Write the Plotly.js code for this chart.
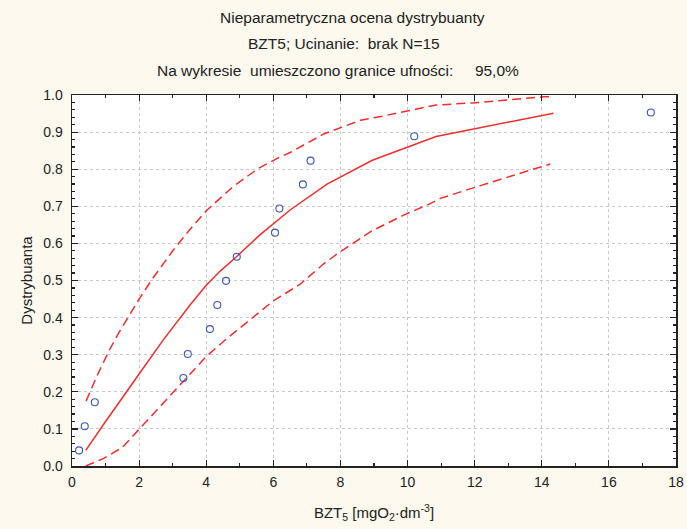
<!DOCTYPE html>
<html><head><meta charset="utf-8">
<script src="https://cdn.plot.ly/plotly-3.0.1.min.js"></script>
<style>html,body{margin:0;padding:0;background:#fdf9ee;}#chart{width:687px;height:529px;}</style>
</head><body><div id="chart"></div>
<script>
// Observed data points (BZT5, empirical distribution)
const obsX = [0.21, 0.38, 0.68, 3.32, 3.45, 4.11, 4.33, 4.59, 4.91, 6.05, 6.18, 6.88, 7.11, 10.2, 17.25];
const obsY = [0.042, 0.107, 0.172, 0.237, 0.302, 0.369, 0.434, 0.499, 0.564, 0.629, 0.694, 0.759, 0.823, 0.889, 0.953];

// Estimated distribution curve
const fitX = [0.41, 1.0, 2.0, 2.72, 3.5, 4.0, 4.4, 4.9, 5.6, 6.5, 7.6, 8.95, 10.85, 14.35];
const fitY = [0.042, 0.12, 0.248, 0.34, 0.432, 0.487, 0.524, 0.564, 0.623, 0.69, 0.76, 0.824, 0.888, 0.951];

// Upper 95% confidence limit
const upX = [0.42, 0.73, 1.1, 1.4, 2.0, 2.4, 3.0, 3.5, 4.0, 4.8, 5.55, 6.2, 6.5, 7.5, 8.6, 9.2, 10.85, 12.0, 14.05, 14.35];
const upY = [0.175, 0.24, 0.31, 0.36, 0.45, 0.505, 0.58, 0.636, 0.688, 0.753, 0.802, 0.833, 0.845, 0.895, 0.932, 0.942, 0.973, 0.979, 0.995, 0.995];

// Lower 95% confidence limit
const loX = [0.41, 0.93, 1.5, 2.0, 2.63, 3.32, 4.0, 4.62, 5.4, 6.0, 6.8, 7.5, 8.0, 8.9, 9.9, 10.6, 11.0, 12.0, 14.25];
const loY = [0.0, 0.02, 0.05, 0.099, 0.16, 0.227, 0.295, 0.344, 0.402, 0.445, 0.49, 0.545, 0.578, 0.632, 0.677, 0.704, 0.722, 0.751, 0.814];

const titleLines = [
  "Nieparametryczna ocena dystrybuanty",
  "BZT5; Ucinanie:  brak N=15",
  "Na wykresie  umieszczono granice ufności:     95,0%"
];
const xTitle = "BZT<sub>5</sub> [mgO<sub>2</sub>·dm<sup>-3</sup>]";
const yTitle = "Dystrybuanta";

const red = "#ee2e2e";
const traces = [
  {x: upX, y: upY, mode: "lines", line: {color: red, width: 1.5, dash: "9px,5px"}, hoverinfo: "skip"},
  {x: loX, y: loY, mode: "lines", line: {color: red, width: 1.5, dash: "9px,5px"}, hoverinfo: "skip"},
  {x: fitX, y: fitY, mode: "lines", line: {color: red, width: 1.5}},
  {x: obsX, y: obsY, mode: "markers", marker: {symbol: "circle-open", size: 7, color: "#3b55b5", line: {width: 1.1}}}
];

const fam = "Liberation Sans, Arial, sans-serif";
const tickFont = {family: fam, size: 14, color: "#222"};
const titleFont = {family: fam, size: 15, color: "#222"};
const titleX = [0.465, 0.45, 0.44];
const annotations = titleLines.map((t, i) => ({
  text: t, xref: "paper", yref: "paper", x: titleX[i], xanchor: "center",
  y: 1 + (78 - 26.5 * i) / 371, yanchor: "middle", showarrow: false,
  font: {family: fam, size: 15.5, color: "#222"}
}));

const axisCommon = {
  showline: true, linecolor: "#222", linewidth: 1.5, mirror: "ticks",
  ticks: "inside", ticklen: 6, tickwidth: 1.2, tickcolor: "#222",
  showgrid: true, gridcolor: "#c8c8c8", griddash: "dot", gridwidth: 1,
  zeroline: false, tickfont: tickFont
};

const layout = {
  width: 687, height: 529,
  paper_bgcolor: "#fdf9ee", plot_bgcolor: "#ffffff",
  margin: {l: 72, r: 11, t: 95, b: 63},
  showlegend: false,
  font: tickFont,
  annotations: annotations,
  xaxis: Object.assign({}, axisCommon, {
    range: [0, 18], dtick: 2, tick0: 0, ticklabelstandoff: 3,
    minor: {dtick: 1, ticks: "inside", ticklen: 3, tickcolor: "#222", showgrid: false},
    title: {text: xTitle, font: titleFont, standoff: 18}
  }),
  yaxis: Object.assign({}, axisCommon, {
    range: [0, 1.0], dtick: 0.1, tick0: 0, tickformat: ".1f", ticklabelstandoff: 5,
    minor: {dtick: 0.02, ticks: "inside", ticklen: 3, tickcolor: "#222", showgrid: false},
    title: {text: yTitle, font: titleFont, standoff: 7}
  })
};

Plotly.newPlot("chart", traces, layout, {displayModeBar: false, staticPlot: true});
</script>
</body></html>
